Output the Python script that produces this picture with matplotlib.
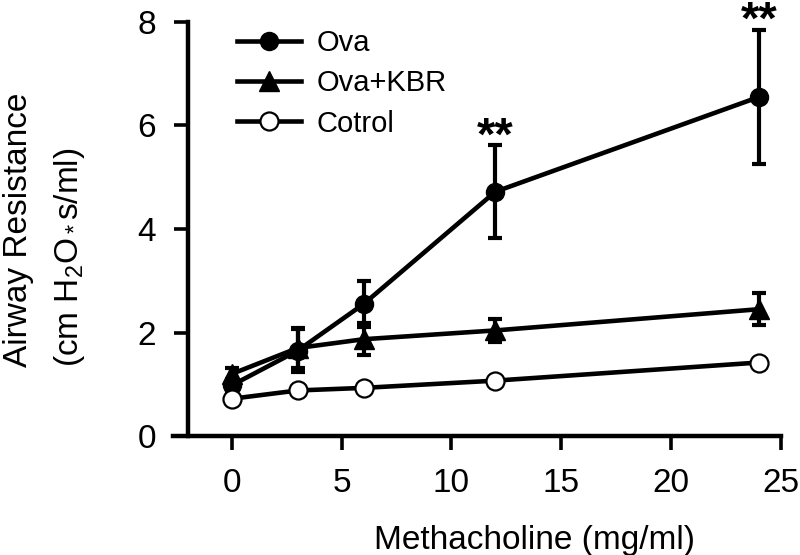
import matplotlib
matplotlib.use('Agg')
import matplotlib.pyplot as plt

plt.rcParams['font.family'] = ['Liberation Sans', 'DejaVu Sans']
plt.rcParams['mathtext.fontset'] = 'custom'
plt.rcParams['mathtext.rm'] = 'Liberation Sans'
plt.rcParams['mathtext.it'] = 'Liberation Sans'

# data
dose = [0, 3, 6, 12, 24]
ova = [0.98, 1.65, 2.55, 4.72, 6.55]
ova_err = [0.12, 0.42, 0.45, 0.9, 1.3]
kbr = [1.2, 1.7, 1.87, 2.04, 2.45]
kbr_err = [0.12, 0.38, 0.31, 0.23, 0.31]
ctrl = [0.72, 0.88, 0.93, 1.07, 1.42]
ctrl_err = [0.04, 0.05, 0.05, 0.05, 0.06]
star_idx = [3, 4]

fig = plt.figure(figsize=(8, 5.55), dpi=100)
ax = fig.add_axes([0.216, 0.2144, 0.76, 0.746])

lw = 3.3
ekw = dict(fmt='none', ecolor='black', elinewidth=3.0, capsize=5, capthick=3.0, zorder=2)
ax.errorbar(dose, ova, yerr=ova_err, **ekw)
ax.errorbar(dose, kbr, yerr=kbr_err, **ekw)
ax.errorbar(dose, ctrl, yerr=ctrl_err, **ekw)

ax.plot(dose, ova, '-o', color='black', lw=lw, ms=13, mfc='black', mec='black', label='Ova', zorder=3)
ax.plot(dose, kbr, '-^', color='black', lw=lw, ms=14, mfc='black', mec='black', label='Ova+KBR', zorder=3)
ax.plot(dose, ctrl, '-o', color='black', lw=lw, ms=13, mfc='white', mec='black', mew=1.6, label='Cotrol', zorder=4)

for i in star_idx:
    ax.annotate('**', xy=(dose[i], ova[i] + ova_err[i]), xytext=(0, -3), textcoords='offset points',
                ha='center', va='baseline', fontsize=34, fontweight='bold', annotation_clip=False)

ax.set_xlim(-2.69, 25)
ax.set_ylim(0, 8)
ax.set_xticks([0, 5, 10, 15, 20, 25])
ax.set_yticks([0, 2, 4, 6, 8])

for s in ['top', 'right']:
    ax.spines[s].set_visible(False)
ax.spines['left'].set_position(('data', -2.0))
for s in ['left', 'bottom']:
    ax.spines[s].set_linewidth(3.2)
ax.tick_params(direction='out', length=10, width=2.6, labelsize=24, pad=13)

ax.set_xlabel('Methacholine (mg/ml)', fontsize=24)
ax.xaxis.set_label_coords(0.595, -0.215)

ylab_y = (555 - 367) / 555
fig.text(27 / 800, ylab_y, 'Airway Resistance', rotation=90, rotation_mode='anchor',
         ha='left', va='baseline', fontsize=24)
fig.text(78 / 800, ylab_y, r'(cm H$_2$O$_*$s/ml)', rotation=90, rotation_mode='anchor',
         ha='left', va='baseline', fontsize=24)

ax.legend(loc='upper left', bbox_to_anchor=(0.105, 0.983), frameon=False, fontsize=21,
          handlelength=2.2, handletextpad=0.55, labelspacing=0.42, borderpad=0, borderaxespad=0)

fig.savefig('out.png', dpi=100)
